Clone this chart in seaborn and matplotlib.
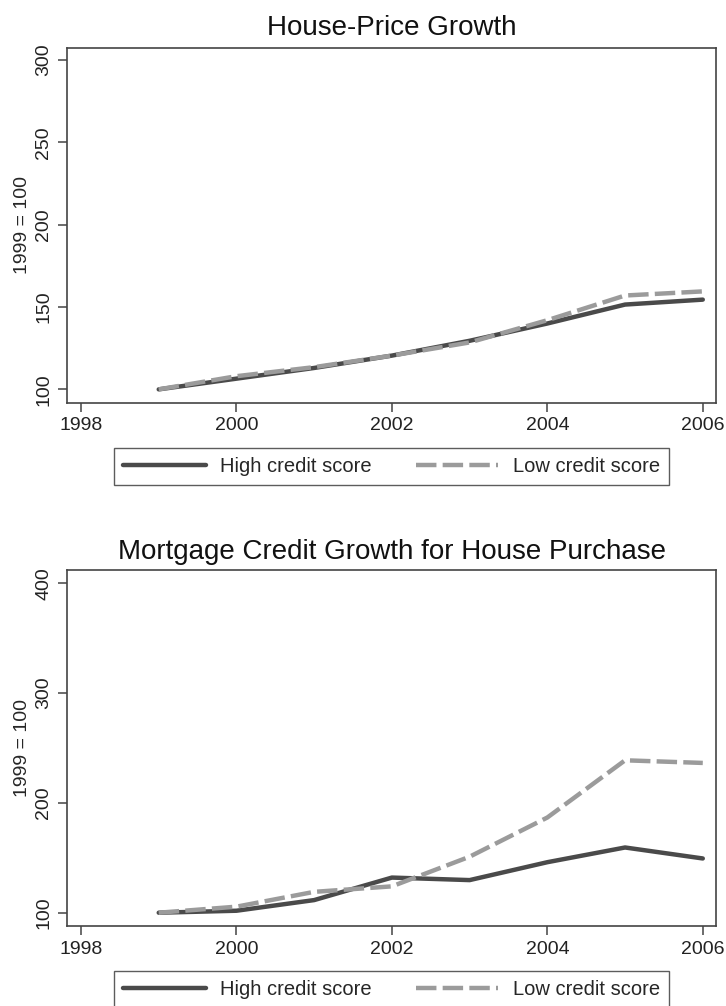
import matplotlib
matplotlib.use("Agg")
import matplotlib.pyplot as plt
import numpy as np
import pandas as pd
import seaborn as sns

# ---- data ----
years = [1999, 2000, 2001, 2002, 2003, 2004, 2005, 2006]
price_high = [100, 106.5, 113, 120.5, 129.5, 140, 151.5, 154.5]
price_low = [100, 108, 113.5, 120.5, 128.5, 142, 157, 159.5]
credit_high = [100, 101.8, 111.5, 132, 129.7, 146, 159.4, 149.4]
credit_low = [100, 105.5, 119, 124, 151, 186.7, 238.8, 236.4]
series_names = ["High credit score", "Low credit score"]
titles = ["House-Price Growth", "Mortgage Credit Growth for House Purchase"]
ylabel = "1999 = 100"
xticks = [1998, 2000, 2002, 2004, 2006]
yticks_top = [100, 150, 200, 250, 300]
yticks_bot = [100, 200, 300, 400]

sns.set_style("white")
plt.rcParams['font.family'] = ['Liberation Sans', 'DejaVu Sans']

W, H = 726, 1006
fig = plt.figure(figsize=(W / 100, H / 100), dpi=100)
fig.patch.set_facecolor("white")


def make_df(high, low):
    return pd.DataFrame({
        "year": years * 2,
        "value": list(high) + list(low),
        "series": [series_names[0]] * len(years) + [series_names[1]] * len(years),
    })


palette = {series_names[0]: "#4a4a4a", series_names[1]: "#9b9b9b"}
dashes = {series_names[0]: "", series_names[1]: (4.6, 1.4)}

panels = [
    (make_df(price_high, price_low), titles[0], yticks_top, (91.9, 307.5), 47.7, 402.7, 28, 448),
    (make_df(credit_high, credit_low), titles[1], yticks_bot, (87.9, 412.1), 570, 926, 551.7, 971),
]

for df, title, yt, ylim, top, bot, ty, legtop in panels:
    left, right = 67, 716
    ax = fig.add_axes([left / W, 1 - bot / H, (right - left) / W, (bot - top) / H])
    sns.lineplot(data=df, x="year", y="value", hue="series", style="series",
                 palette=palette, dashes=dashes, linewidth=3.2, ax=ax,
                 legend=True)
    ax.set_xlim(1997.82, 2006.17)
    ax.set_ylim(*ylim)
    ax.set_xticks(xticks)
    ax.set_yticks(yt)
    ax.set_xlabel("")
    ax.set_ylabel(ylabel, fontsize=14, va="center")
    ax.yaxis.set_label_coords(-(left - 22) / (right - left), 0.5)
    for s in ax.spines.values():
        s.set_color("#444444")
        s.set_linewidth(1.2)
    ax.tick_params(axis="both", which="major", length=6.5, width=1.1,
                   color="#444444", labelsize=14, direction="out", pad=4,
                   bottom=True, left=True, labelcolor="#222222")
    for lbl in ax.get_yticklabels():
        lbl.set_rotation(90)
        lbl.set_va("center")
    h_ax = bot - top
    ax.set_title(title, fontsize=20, y=1 + (top - ty) / h_ax, va="center", pad=0,
                 color="#111111")
    handles, labels = ax.get_legend_handles_labels()
    leg = ax.legend(handles=handles, labels=labels, loc="upper center",
                    bbox_to_anchor=(0.5, -(legtop - bot) / h_ax), ncol=2,
                    frameon=True, fancybox=False, shadow=False,
                    edgecolor="#333333", fontsize=14.5, handlelength=4.1,
                    handletextpad=0.7, columnspacing=2.2, borderpad=0.45,
                    borderaxespad=0, title=None)
    leg.get_frame().set_linewidth(1.0)
    for line in leg.get_lines():
        line.set_linewidth(3.2)

fig.savefig("out.png", dpi=100, facecolor="white")
